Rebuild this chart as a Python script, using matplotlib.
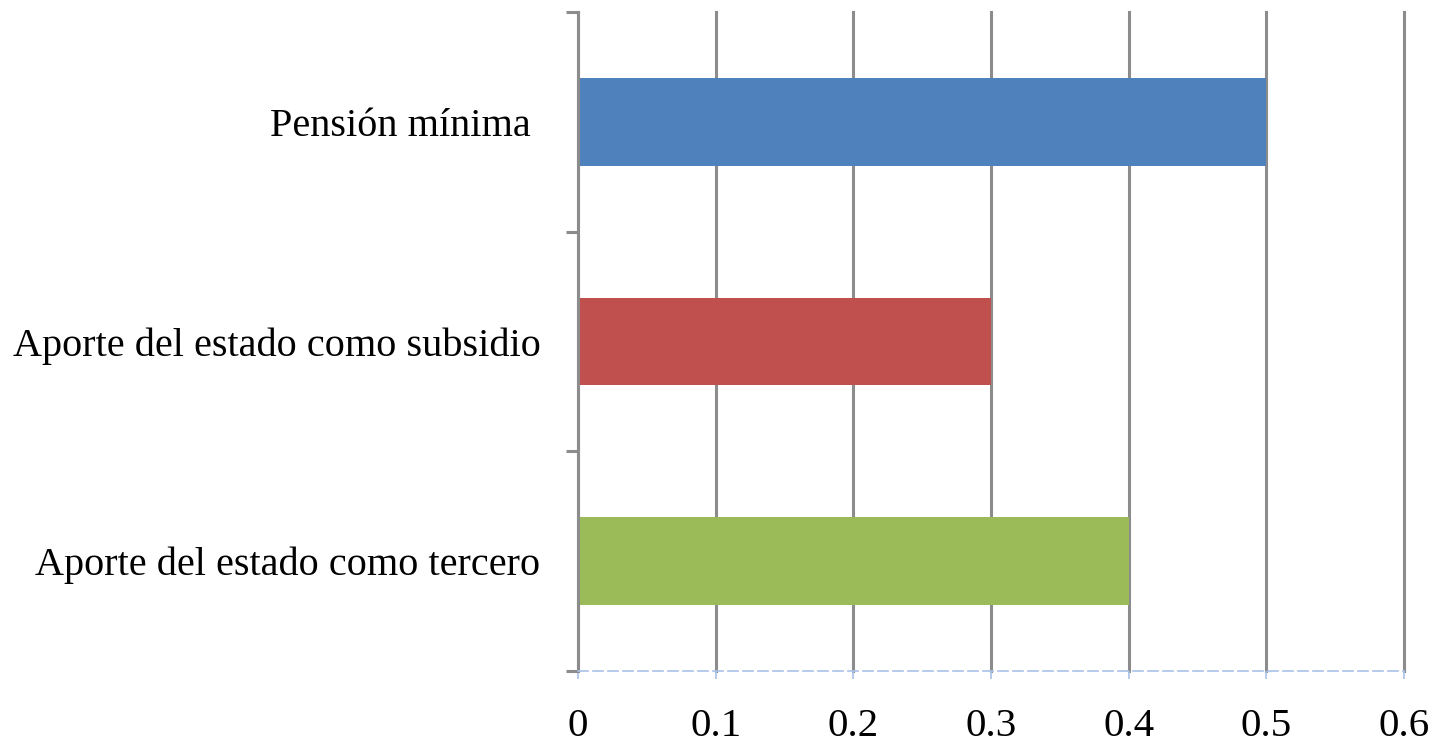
import matplotlib
matplotlib.use("Agg")
import matplotlib.pyplot as plt
import numpy as np

categories = ["Pensión mínima ", "Aporte del estado como subsidio", "Aporte del estado como tercero"]
values = [0.5, 0.3, 0.4]
colors = ["#4F81BD", "#C0504D", "#9BBB59"]
xticks = [0, 0.1, 0.2, 0.3, 0.4, 0.5, 0.6]
xticklabels = ["0", "0.1", "0.2", "0.3", "0.4", "0.5", "0.6"]

plt.rcParams['font.family'] = ['Liberation Serif', 'DejaVu Serif']

fig = plt.figure(figsize=(14.37, 7.5), dpi=100)
ax = fig.add_axes([578/1437, 1 - 671/750, (1404 - 578)/1437, (671 - 12)/750])

ypos = np.arange(len(categories))
ax.barh(ypos, values, height=0.4, color=colors, zorder=2)

ax.set_xlim(0, 0.6)
ax.set_ylim(len(categories) - 0.5, -0.5)

grid_color = "#8C8C8C"
ax.set_xticks(xticks)
ax.set_xticklabels(xticklabels, fontsize=29.5)
ax.xaxis.grid(True, color=grid_color, linewidth=2.2, zorder=1)
for gl in ax.get_xgridlines():
    gl.set_clip_on(False)
ax.set_axisbelow(True)

ax.set_yticks(ypos)
ax.set_yticklabels(categories, fontsize=29)
ax.set_yticks(np.arange(len(categories) + 1) - 0.5, minor=True)
ax.tick_params(axis='y', which='major', length=0, pad=27)
ax.tick_params(axis='y', which='minor', length=9, width=2.2, color=grid_color, direction='out')
ax.tick_params(axis='x', which='major', length=6, width=1.2, color="#A9C1E8", pad=21)

for s in ['top', 'right']:
    ax.spines[s].set_visible(False)
ax.spines['left'].set_color(grid_color)
ax.spines['left'].set_linewidth(2.2)
ax.spines['left'].set_zorder(3)
ax.spines['bottom'].set_color("#A9C1E8")
ax.spines['bottom'].set_linewidth(1.2)
ax.spines['bottom'].set_linestyle((0, (6, 3)))
ax.spines['bottom'].set_zorder(3)

fig.savefig("out.png", dpi=100)
